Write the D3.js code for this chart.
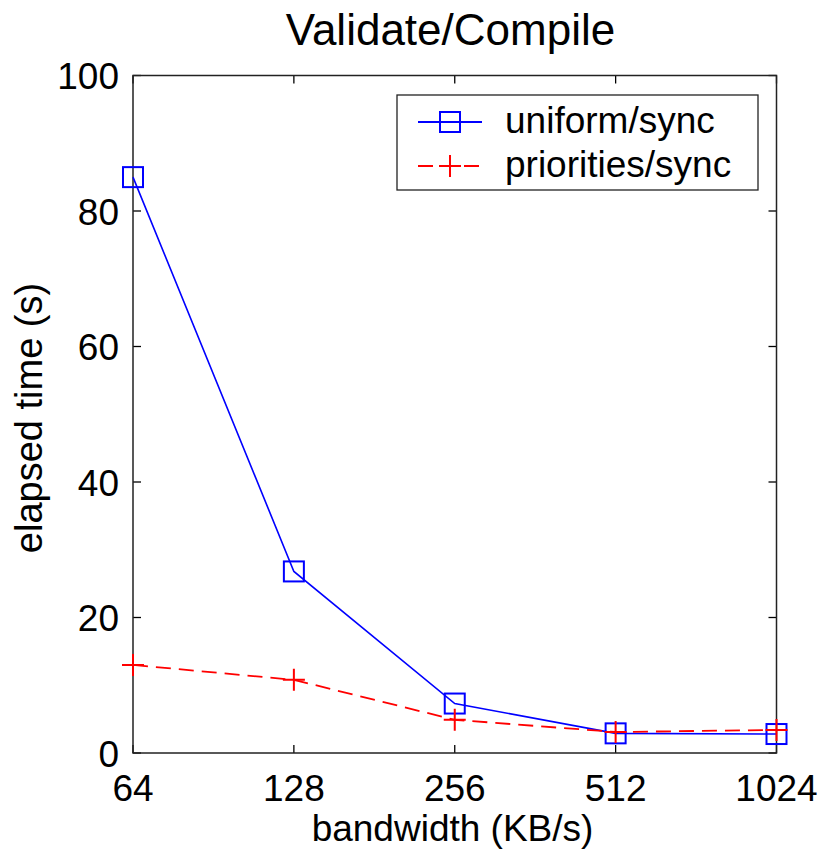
<!DOCTYPE html>
<html>
<head>
<meta charset="utf-8">
<script src="https://cdn.jsdelivr.net/npm/d3@7"></script>
<style>
  body { margin: 0; background: #fff; }
  text { font-family: "Liberation Sans", Arial, Helvetica, sans-serif; fill: #000; }
</style>
</head>
<body>
<div id="chart"></div>
<script>
// bandwidth in KB/s (log2 axis)
var bandwidth = [64, 128, 256, 512, 1024];
var uniformSync = [85.0, 26.8, 7.3, 2.9, 2.8];
var prioritiesSync = [13.0, 10.8, 4.9, 3.1, 3.4];
var yTicks = [0, 20, 40, 60, 80, 100];

var width = 825, height = 853;
var margin = {top: 75.5, right: 48.5, bottom: 100, left: 133};

var svg = d3.select("#chart").append("svg")
    .attr("width", width)
    .attr("height", height);

var x = d3.scaleLog().base(2)
    .domain([64, 1024])
    .range([margin.left, width - margin.right]);

var y = d3.scaleLinear()
    .domain([0, 100])
    .range([height - margin.bottom, margin.top]);

var boxL = margin.left, boxR = width - margin.right,
    boxT = margin.top, boxB = height - margin.bottom;

// ticks point inward, on all four sides of the box
var tickLen = 8;
var g = svg.append("g").attr("stroke", "#000").attr("stroke-width", 1.3);
bandwidth.forEach(function (d) {
    g.append("line").attr("x1", x(d)).attr("x2", x(d)).attr("y1", boxB).attr("y2", boxB - tickLen);
    g.append("line").attr("x1", x(d)).attr("x2", x(d)).attr("y1", boxT).attr("y2", boxT + tickLen);
});
yTicks.forEach(function (d) {
    g.append("line").attr("x1", boxL).attr("x2", boxL + tickLen).attr("y1", y(d)).attr("y2", y(d));
    g.append("line").attr("x1", boxR).attr("x2", boxR - tickLen).attr("y1", y(d)).attr("y2", y(d));
});

svg.append("rect")
    .attr("x", boxL).attr("y", boxT)
    .attr("width", boxR - boxL).attr("height", boxB - boxT)
    .attr("fill", "none").attr("stroke", "#222").attr("stroke-width", 1.5);

// tick labels
svg.selectAll(".xl").data(bandwidth).enter().append("text")
    .attr("x", function (d) { return x(d); })
    .attr("y", boxB + 48)
    .attr("text-anchor", "middle")
    .style("font-size", "37px")
    .text(function (d) { return d; });

svg.selectAll(".yl").data(yTicks).enter().append("text")
    .attr("x", boxL - 14)
    .attr("y", function (d) { return y(d) + 13.5; })
    .attr("text-anchor", "end")
    .style("font-size", "37px")
    .text(function (d) { return d; });

// titles
svg.append("text")
    .attr("x", 450.5).attr("y", 45)
    .attr("text-anchor", "middle")
    .style("font-size", "44px")
    .text("Validate/Compile");

svg.append("text")
    .attr("x", 452.5).attr("y", 841)
    .attr("text-anchor", "middle")
    .style("font-size", "37px")
    .text("bandwidth (KB/s)");

svg.append("text")
    .attr("transform", "translate(42,418) rotate(-90)")
    .attr("text-anchor", "middle")
    .style("font-size", "38px")
    .text("elapsed time (s)");

// series
var line = d3.line()
    .x(function (d, i) { return x(bandwidth[i]); })
    .y(function (d) { return y(d); });

svg.append("path").datum(uniformSync)
    .attr("d", line)
    .attr("fill", "none").attr("stroke", "#0000ff").attr("stroke-width", 1.6);

svg.append("path").datum(prioritiesSync)
    .attr("d", line)
    .attr("fill", "none").attr("stroke", "#ff0000").attr("stroke-width", 1.8)
    .attr("stroke-dasharray", "15,8");

var sq = 20, pl = 11;
function square(sel, cx, cy) {
    sel.append("rect")
        .attr("x", cx - sq / 2).attr("y", cy - sq / 2)
        .attr("width", sq).attr("height", sq)
        .attr("fill", "none").attr("stroke", "#0000ff").attr("stroke-width", 2);
}
function plus(sel, cx, cy) {
    sel.append("path")
        .attr("d", "M" + (cx - pl) + "," + cy + "H" + (cx + pl) + "M" + cx + "," + (cy - pl) + "V" + (cy + pl))
        .attr("fill", "none").attr("stroke", "#ff0000").attr("stroke-width", 2);
}

uniformSync.forEach(function (d, i) { square(svg, x(bandwidth[i]), y(d)); });
prioritiesSync.forEach(function (d, i) { plus(svg, x(bandwidth[i]), y(d)); });

// legend
var legend = svg.append("g");
legend.append("rect")
    .attr("x", 397).attr("y", 95)
    .attr("width", 361).attr("height", 95)
    .attr("fill", "#fff").attr("stroke", "#222").attr("stroke-width", 1.3);

var rows = [
    {label: "uniform/sync", y: 122, color: "#0000ff", dash: null, mark: square},
    {label: "priorities/sync", y: 166, color: "#ff0000", dash: "15,8", mark: plus}
];
rows.forEach(function (r) {
    legend.append("line")
        .attr("x1", 418).attr("x2", 482).attr("y1", r.y).attr("y2", r.y)
        .attr("stroke", r.color).attr("stroke-width", 1.8)
        .attr("stroke-dasharray", r.dash);
    r.mark(legend, 450, r.y);
    legend.append("text")
        .attr("x", 505).attr("y", r.y + 11)
        .style("font-size", "37px")
        .text(r.label);
});
</script>
</body>
</html>
